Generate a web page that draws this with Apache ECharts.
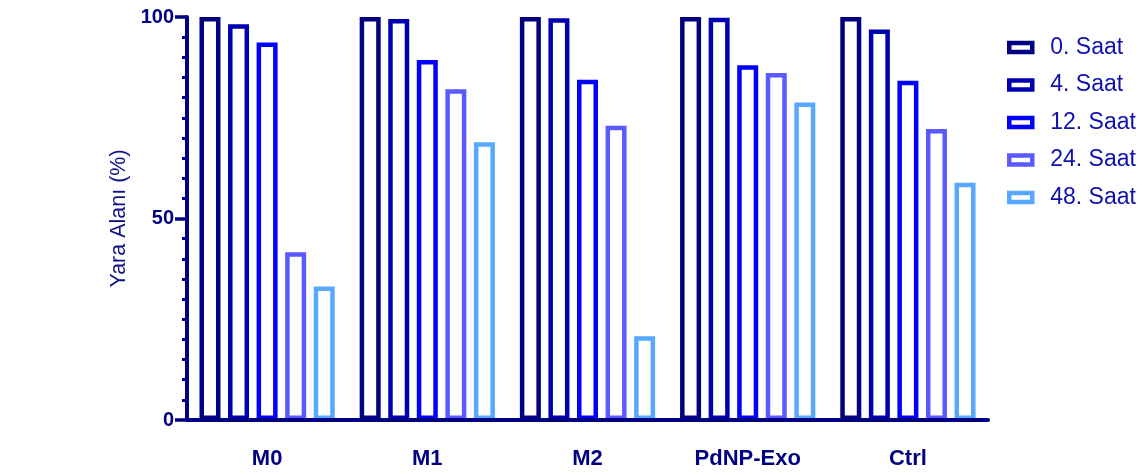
<!DOCTYPE html>
<html>
<head>
<meta charset="utf-8">
<title>Yara Alanı (%)</title>
<script src="https://cdn.jsdelivr.net/npm/echarts@6/dist/echarts.min.js"></script>
<style>
  html, body { margin: 0; padding: 0; background: #ffffff; }
  #chart { width: 1144px; height: 475px; }
</style>
</head>
<body>
<div id="chart"></div>
<script>
// Groups along the x axis
const categories = ['M0', 'M1', 'M2', 'PdNP-Exo', 'Ctrl'];

// Wound area (%) per time point, one value per group
const saat0  = [100, 100, 100, 100, 100];
const saat4  = [98.2, 99.5, 99.7, 99.8, 96.9];
const saat12 = [93.7, 89.3, 84.4, 88.0, 84.2];
const saat24 = [41.6, 82.1, 73.0, 86.1, 72.2];
const saat48 = [33.1, 68.9, 20.8, 78.8, 58.9];

const seriesNames = ['0. Saat', '4. Saat', '12. Saat', '24. Saat', '48. Saat'];
const seriesData = [saat0, saat4, saat12, saat24, saat48];
const seriesColors = ['#000080', '#0000b0', '#0000ff', '#5a5aff', '#58a8ff'];

const axisColor = '#000080';
const fontFamily = '"Liberation Sans", Arial, sans-serif';

const chart = echarts.init(document.getElementById('chart'), null, { renderer: 'canvas' });

// Hollow bars: white fill with a thick coloured outline
const series = seriesNames.map((name, i) => ({
  name: name,
  type: 'bar',
  data: seriesData[i],
  barWidth: 21,
  barGap: '36%',
  itemStyle: {
    color: '#ffffff',
    borderColor: seriesColors[i],
    borderWidth: 4.5
  },
  emphasis: { disabled: true }
}));

chart.setOption({
  animation: false,
  backgroundColor: '#ffffff',
  textStyle: { fontFamily: fontFamily },
  grid: { left: 187, right: 156, top: 17, bottom: 55, containLabel: false },
  legend: {
    orient: 'vertical',
    left: 1002,
    top: 31,
    icon: 'rect',
    itemWidth: 23,
    itemHeight: 9,
    itemGap: 14.5,
    selectedMode: false,
    textStyle: {
      fontFamily: fontFamily,
      fontSize: 23,
      color: '#1010b0',
      padding: [0, 0, 0, 13]
    },
    data: seriesNames.map((name, i) => ({
      name: name,
      itemStyle: {
        color: '#ffffff',
        borderColor: seriesColors[i],
        borderWidth: 4.5
      }
    }))
  },
  xAxis: {
    type: 'category',
    data: categories,
    z: 5,
    axisLine: { lineStyle: { color: axisColor, width: 4 } },
    axisTick: {
      alignWithLabel: true,
      length: 11,
      lineStyle: { color: axisColor, width: 3.5 }
    },
    axisLabel: {
      margin: 28,
      fontFamily: fontFamily,
      fontSize: 22,
      fontWeight: 'bold',
      color: axisColor
    },
    splitLine: { show: false }
  },
  yAxis: {
    type: 'value',
    min: 0,
    max: 100,
    interval: 50,
    z: 5,
    name: 'Yara Alanı (%)',
    nameLocation: 'middle',
    nameRotate: 90,
    nameGap: 47,
    nameTextStyle: {
      fontFamily: fontFamily,
      fontSize: 21.5,
      color: '#101088'
    },
    axisLine: { show: true, lineStyle: { color: axisColor, width: 4 } },
    axisTick: {
      show: true,
      length: 12,
      lineStyle: { color: axisColor, width: 3.5 }
    },
    minorTick: {
      show: true,
      splitNumber: 10,
      length: 5,
      lineStyle: { color: axisColor, width: 3 }
    },
    axisLabel: {
      margin: 13,
      fontFamily: fontFamily,
      fontSize: 20,
      fontWeight: 'bold',
      color: axisColor
    },
    splitLine: { show: false },
    minorSplitLine: { show: false }
  },
  series: series
});
</script>
</body>
</html>
